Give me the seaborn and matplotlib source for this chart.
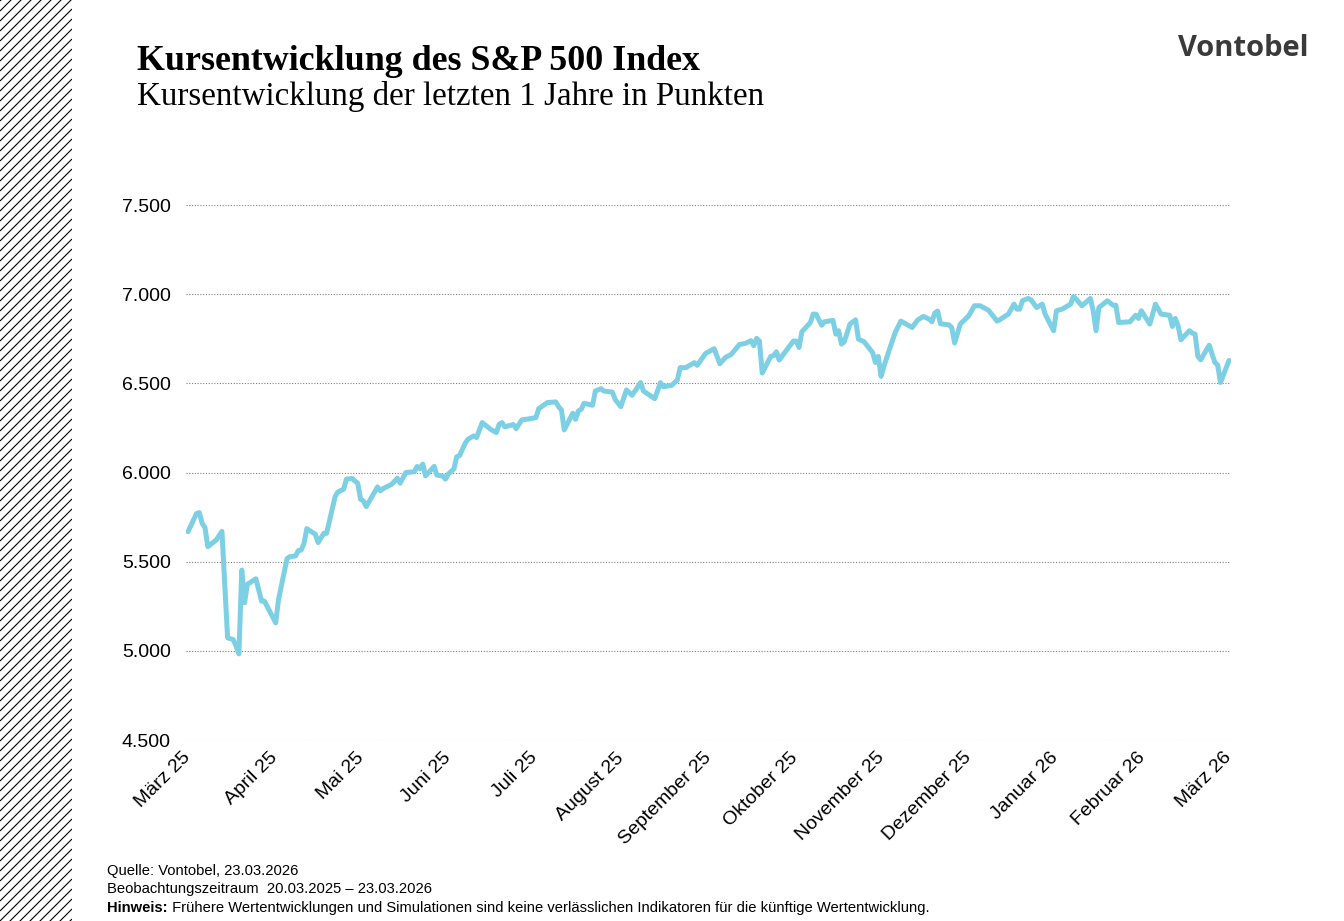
import numpy as np
import pandas as pd
import matplotlib.pyplot as plt
import seaborn as sns


start = pd.Timestamp('2025-03-20')
ende = pd.Timestamp('2026-03-23')

# Tage seit Beginn des Beobachtungszeitraums und Indexstand in Punkten
tage = [0, 3, 4, 5, 6, 7, 10, 12, 14, 16, 17, 18, 19, 20, 21, 24, 26, 27, 31, 32,
        35, 36, 38, 39, 40, 41, 42, 45, 46, 48, 49, 52, 53, 55, 56, 58, 60, 61, 62, 63,
        67, 68, 69, 72, 74, 75, 77, 80, 81, 82, 83, 84, 87, 88, 90, 91, 92, 94, 95, 96,
        98, 99, 101, 102, 104, 107, 109, 110, 111, 112, 115, 116, 118, 121, 123, 124, 127, 130, 131, 132,
        133, 136, 137, 138, 139, 140, 143, 144, 146, 147, 150, 151, 153, 155, 157, 160, 161, 165, 167, 168,
        171, 173, 174, 176, 179, 180, 183, 186, 188, 190, 192, 195, 197, 199, 200, 201, 202, 203, 206, 207,
        208, 209, 211, 214, 215, 216, 217, 220, 221, 222, 224, 225, 228, 229, 230, 231, 232, 234, 236, 237,
        239, 242, 243, 244, 245, 246, 248, 250, 252, 256, 258, 260, 262, 263, 264, 265, 266, 269, 270, 271,
        273, 276, 278, 280, 283, 285, 286, 287, 290, 292, 293, 294, 295, 297, 298, 300, 302, 303, 306, 307,
        309, 312, 313, 314, 316, 319, 320, 321, 322, 325, 327, 328, 329, 333, 335, 336, 337, 340, 342, 344,
        347, 348, 349, 350, 351, 354, 355, 356, 357, 358, 361, 363, 364, 365, 368]
punkte = [5668, 5770, 5775, 5715, 5691, 5584, 5622, 5670, 5073, 5063, 5026, 4983, 5453, 5270, 5373, 5404, 5279, 5279, 5157, 5288,
          5517, 5528, 5532, 5562, 5565, 5601, 5685, 5654, 5607, 5659, 5659, 5865, 5891, 5906, 5963, 5966, 5940, 5850, 5841, 5809,
          5919, 5897, 5910, 5934, 5968, 5940, 6000, 6004, 6034, 6022, 6047, 5981, 6034, 5985, 5981, 5963, 5991, 6020, 6088, 6095,
          6164, 6187, 6205, 6196, 6280, 6242, 6224, 6270, 6280, 6256, 6269, 6246, 6295, 6302, 6308, 6358, 6392, 6396, 6369, 6351,
          6239, 6332, 6298, 6345, 6354, 6388, 6377, 6457, 6470, 6457, 6451, 6410, 6369, 6463, 6433, 6504, 6457, 6414, 6504, 6481,
          6489, 6519, 6588, 6588, 6616, 6601, 6668, 6694, 6610, 6645, 6662, 6718, 6724, 6739, 6711, 6752, 6737, 6558, 6651, 6655,
          6677, 6631, 6673, 6737, 6737, 6701, 6789, 6841, 6888, 6888, 6826, 6845, 6853, 6776, 6795, 6720, 6733, 6832, 6856, 6748,
          6733, 6673, 6617, 6651, 6539, 6595, 6692, 6785, 6849, 6813, 6856, 6875, 6860, 6845, 6894, 6905, 6834, 6828, 6812, 6726,
          6832, 6879, 6935, 6935, 6910, 6870, 6849, 6857, 6888, 6944, 6916, 6916, 6963, 6976, 6968, 6925, 6944, 6888, 6795, 6907,
          6916, 6944, 6987, 6972, 6935, 6976, 6907, 6795, 6925, 6963, 6938, 6938, 6841, 6845, 6882, 6864, 6907, 6832, 6944, 6888,
          6882, 6819, 6864, 6823, 6744, 6795, 6782, 6776, 6651, 6632, 6714, 6617, 6602, 6505, 6628]

monate = ['März 25', 'April 25', 'Mai 25', 'Juni 25', 'Juli 25', 'August 25', 'September 25',
          'Oktober 25', 'November 25', 'Dezember 25', 'Januar 26', 'Februar 26', 'März 26']
y_ticks = [4500, 5000, 5500, 6000, 6500, 7000, 7500]

titel = 'Kursentwicklung des S&P 500 Index'
untertitel = 'Kursentwicklung der letzten 1 Jahre in Punkten'
quelle = 'Quelle: Vontobel, 23.03.2026'
zeitraum = 'Beobachtungszeitraum  20.03.2025 – 23.03.2026'
hinweis = ' Frühere Wertentwicklungen und Simulationen sind keine verlässlichen Indikatoren für die künftige Wertentwicklung.'


def main():
    sns.set_style('white')
    plt.rcParams['font.family'] = ['Liberation Sans', 'DejaVu Sans']
    plt.rcParams['text.color'] = 'black'
    plt.rcParams['xtick.color'] = 'black'
    plt.rcParams['ytick.color'] = 'black'

    df = pd.DataFrame({
        'datum': start + pd.to_timedelta(tage, unit='D'),
        'punkte': punkte,
    })

    fig = plt.figure(figsize=(13.44, 9.21), dpi=100)
    W, H = 1344, 921

    # schraffierter Streifen links
    streifen = fig.add_axes([0, 0, 72 / W, 1])
    streifen.set_xlim(0, 72)
    streifen.set_ylim(0, H)
    streifen.axis('off')
    for c in range(-80, H + 10, 10):
        streifen.plot([0, 72], [c, c + 72], color='black', lw=0.8, solid_capstyle='butt')

    ax = fig.add_axes([186 / W, 1 - 740 / H, (1231 - 186) / W, (740 - 205) / H])
    sns.lineplot(data=df, x='datum', y='punkte', ax=ax, color='#7dd0e4', lw=3.6)

    ax.set_ylim(4500, 7500)
    ax.set_xlim(start - pd.Timedelta(hours=17), ende + pd.Timedelta(hours=17))
    ax.set_yticks(y_ticks)
    ax.set_yticklabels([f'{v:,.0f}'.replace(',', '.') for v in y_ticks])
    ax.set_xticks(pd.date_range(start, ende, periods=len(monate)))
    ax.set_xticklabels(monate, rotation=45, ha='right', va='center', rotation_mode='anchor')
    ax.tick_params(axis='y', length=0, pad=11, labelsize=14, labelcolor='black')
    ax.tick_params(axis='x', length=0, pad=11, labelsize=14, labelcolor='black')
    ax.grid(axis='y', color='#808080', ls=(0, (1, 1.5)), lw=0.8)
    ax.grid(axis='x', visible=False)
    for s in ax.spines.values():
        s.set_visible(False)
    ax.set_xlabel('')
    ax.set_ylabel('')

    fig.text(137 / W, 1 - 70 / H, titel, fontsize=25.8, fontweight='bold',
             family='Liberation Serif', va='baseline')
    fig.text(137 / W, 1 - 105 / H, untertitel, fontsize=23.8,
             family='Liberation Serif', va='baseline')
    fig.text(1308 / W, 1 - 56 / H, 'Vontobel', fontsize=21, fontweight='bold',
             family='Open Sans', color='#3a3a3a', ha='right', va='baseline')

    fig.text(107 / W, 1 - 875 / H, quelle, fontsize=10.6, va='baseline')
    fig.text(107 / W, 1 - 893 / H, zeitraum, fontsize=10.6, va='baseline')
    h = fig.text(107 / W, 1 - 912 / H, 'Hinweis:', fontsize=10.6, fontweight='bold', va='baseline')
    fig.canvas.draw()
    bb = h.get_window_extent(renderer=fig.canvas.get_renderer())
    fig.text(bb.x1 / W, 1 - 912 / H, hinweis, fontsize=10.6, va='baseline')

    fig.savefig('out.png', dpi=100)


if __name__ == "__main__":
    main()
